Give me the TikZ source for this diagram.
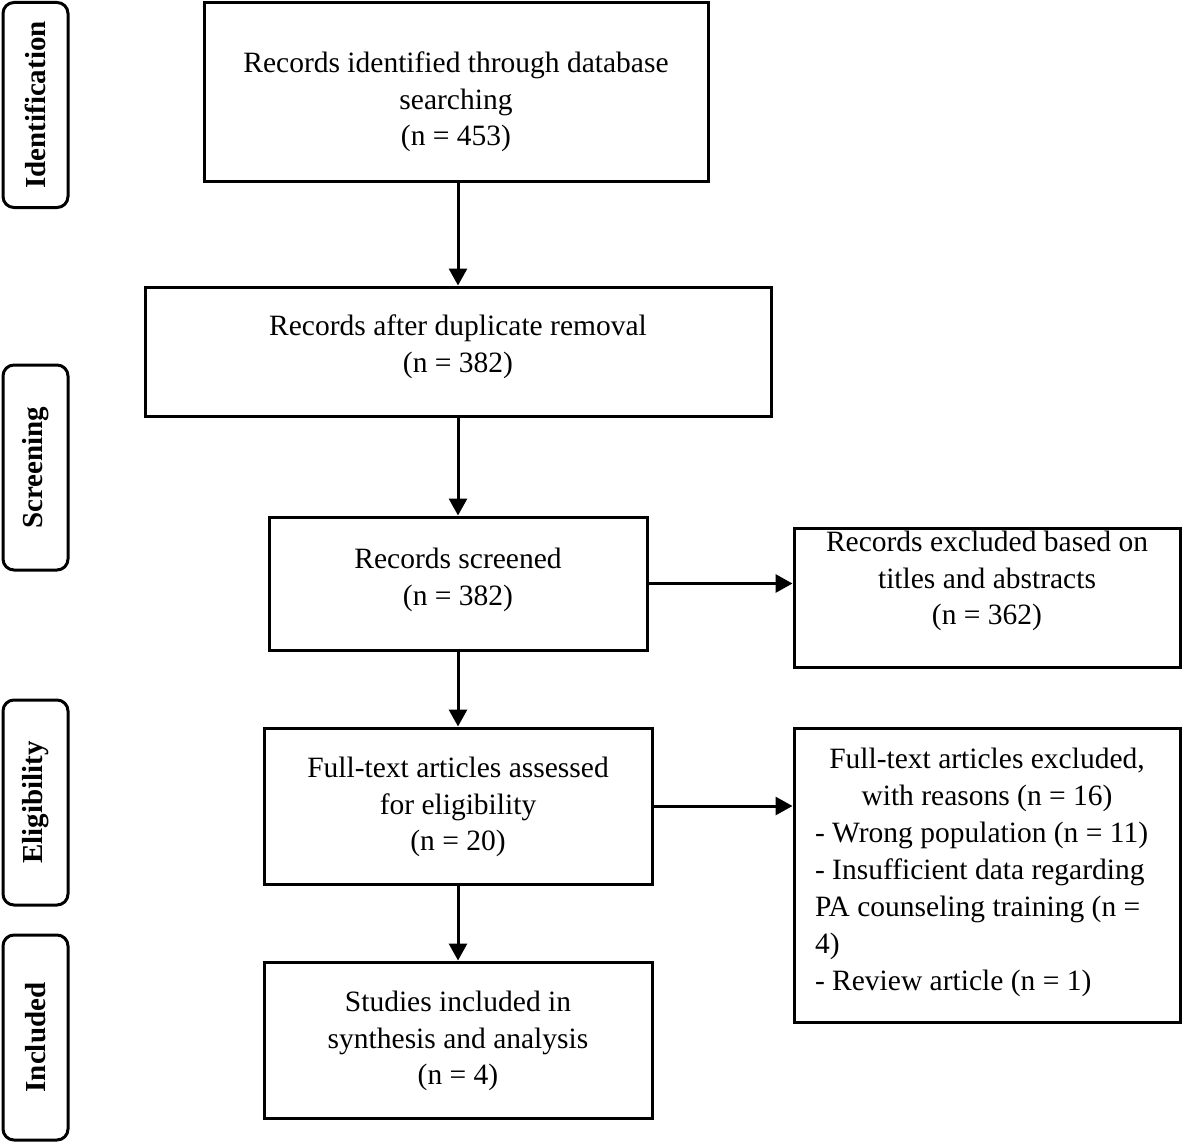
\documentclass[tikz,border=0pt]{standalone}
\usepackage{fontspec}
\setmainfont{Liberation Serif}
\usetikzlibrary{arrows.meta}
\tikzset{
  box/.style={draw, line width=3pt, rectangle, inner sep=0pt},
  side/.style={draw, line width=3pt, rectangle, rounded corners=11pt, inner sep=0pt, minimum width=65pt, minimum height=205pt},
  sidetext/.style={rotate=90, font=\fontsize{29}{34}\selectfont\bfseries},
  txt/.style={align=center, font=\fontsize{29.5}{36.5}\selectfont, inner sep=0pt},
  arr/.style={line width=3pt, -{Triangle[length=17pt,width=18pt]}}
}
\begin{document}
\begin{tikzpicture}[x=1pt,y=-1pt]
\useasboundingbox (0,0) rectangle (1182,1142);
% side labels
\node[side] (s1) at (35.5,105) {};
\node[sidetext] (s1t) at (s1) {Identification};
\node[side] (s2) at (35.5,467.5) {};
\node[sidetext] (s2t) at (s2) {Screening};
\node[side] (s3) at (35.5,802.5) {};
\node[sidetext] (s3t) at (s3) {Eligibility};
\node[side] (s4) at (35.5,1037.5) {};
\node[sidetext] (s4t) at (s4) {Included};
% boxes
\node[box, minimum width=504pt, minimum height=179pt] (b1) at (456,92.5) {};
\node[txt] (t1) at (456,102) {Records identified through database\\searching\\(n = 453)};
\node[box, minimum width=626pt, minimum height=129pt] (b2) at (458,351.5) {};
\node[txt] (t2) at (458,347) {Records after duplicate removal\\(n = 382)};
\node[box, minimum width=378pt, minimum height=133pt] (b3) at (458,583.5) {};
\node[txt] (t3) at (458,580) {Records screened\\(n = 382)};
\node[box, minimum width=386pt, minimum height=139pt] (b4) at (987,597.5) {};
\node[txt] (t4) at (987,581) {Records excluded based on\\titles and abstracts\\(n = 362)};
\node[box, minimum width=388pt, minimum height=156pt] (b5) at (458,806) {};
\node[txt] (t5) at (458,807) {Full-text articles assessed\\for eligibility\\(n = 20)};
\node[box, minimum width=386pt, minimum height=294pt] (b6) at (987,875) {};
\node[txt] (t6) at (987,872) {\begin{minipage}{344pt}\fontsize{29.5}{37}\selectfont\centering Full-text articles excluded,\\with reasons (n = 16)\par\raggedright - Wrong population (n = 11)\\- Insufficient data regarding\\PA counseling training (n =\\4)\\- Review article (n = 1)\end{minipage}};
\node[box, minimum width=388pt, minimum height=156pt] (b7) at (458,1040) {};
\node[txt] (t7) at (458,1041) {Studies included in\\synthesis and analysis\\(n = 4)};
% arrows
\draw[arr] (b1.south -| b2.north) -- (b2.north);
\draw[arr] (b2.south) -- (b3.north);
\draw[arr] (b3.south) -- (b5.north);
\draw[arr] (b5.south) -- (b7.north);
\draw[arr] (b3.east) -- (b3.east -| b4.west);
\draw[arr] (b5.east) -- (b5.east -| b6.west);
\end{tikzpicture}
\end{document}
